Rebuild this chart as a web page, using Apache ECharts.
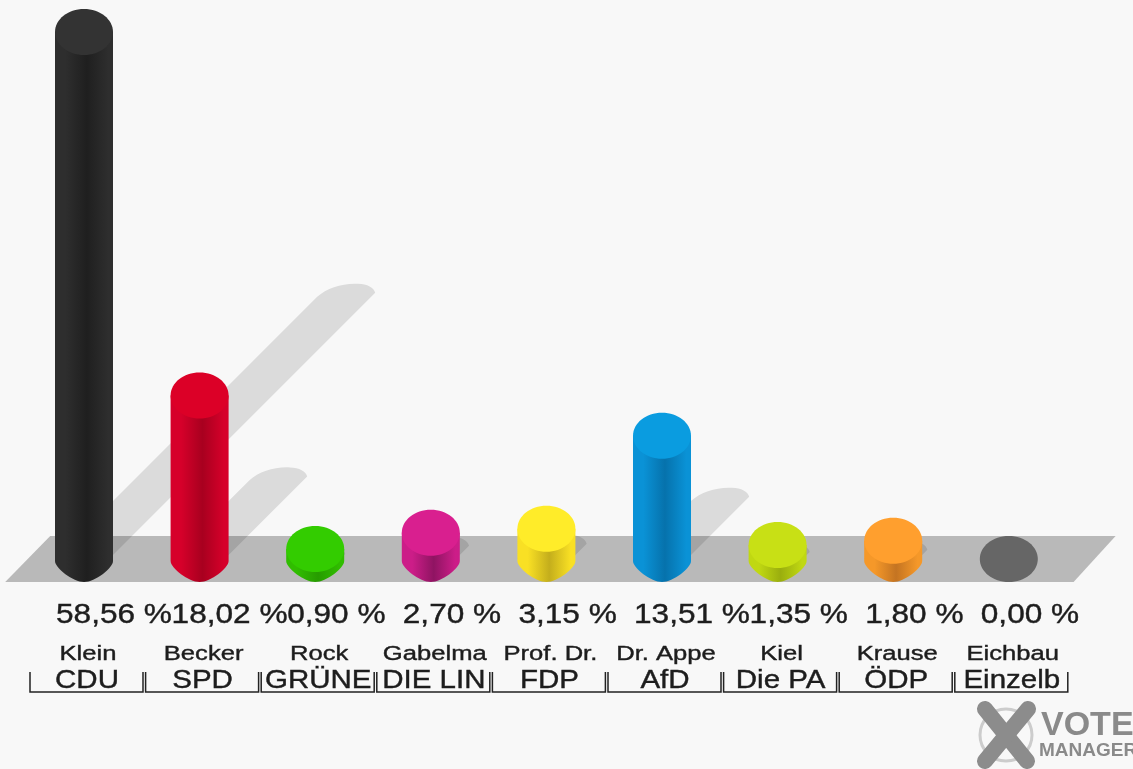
<!DOCTYPE html>
<html>
<head>
<meta charset="utf-8">
<style>html,body{margin:0;padding:0;background:#f8f8f8}#c{width:1133px;height:769px}</style>
<script src="https://cdn.jsdelivr.net/npm/echarts@6/dist/echarts.min.js"></script>
</head>
<body>
<div id="c"></div>
<script>
const names = ['Klein','Becker','Rock','Gabelma','Prof. Dr.','Dr. Appe','Kiel','Krause','Eichbau'];
const parties = ['CDU','SPD','GRÜNE','DIE LIN','FDP','AfD','Die PA','ÖDP','Einzelb'];
const values = [58.56,18.02,0.90,2.70,3.15,13.51,1.35,1.80,0.00];
const valueLabels = ['58,56 %','18,02 %','0,90 %','2,70 %','3,15 %','13,51 %','1,35 %','1,80 %','0,00 %'];
const topColors = ['#333333','#dc0027','#33cc00','#d91f8f','#ffec29','#0a9ce0','#c8e015','#ff9f2e','#666666'];
const sideColors = ['#2e2e2e','#d6002a','#30bd00','#cc1d88','#f9e024','#0a92d6','#c0d812','#f59829','#666666'];
const darkColors = ['#1f1f1f','#a8001f','#279c00','#8f1462','#c4ae1c','#0672ac','#9aae0e','#c47422','#666666'];

const RX = 29, RY = 23, LIFT = 2;
const SHADOW = 0.505;

const chart = echarts.init(document.getElementById('c'), null, {renderer:'canvas'});

function floorItem(params, api) {
  const cs = params.coordSys;
  const y0 = api.coord([0, 0])[1] + LIFT;
  const l = cs.x, r = cs.x + cs.width;
  return {type:'polygon', shape:{points:[
    [l - 21, y0 + RY], [l + 24, y0 - RY], [r + 49, y0 - RY], [r + 7, y0 + RY]
  ]}, style:{fill:'#b9b9b9'}};
}

function shadowItem(params, api) {
  const p0 = api.coord([api.value(0), 0]);
  const p1 = api.coord([api.value(0), api.value(1)]);
  const cx = p0[0], y0 = p0[1] + LIFT;
  const d = (p0[1] - p1[1]) * SHADOW + 1;
  if (api.value(1) <= 0) return null;
  const rx = cx + 25 + d, ry = y0 - d;
  const path = 'M' + (cx - 29) + ' ' + y0 +
    ' L' + (rx - 58) + ' ' + (ry + 4) +
    ' C' + (rx - 48) + ' ' + (ry - 5) + ' ' + (rx - 32) + ' ' + (ry - 10) + ' ' + (rx - 17) + ' ' + (ry - 9) +
    ' C' + (rx - 8) + ' ' + (ry - 9) + ' ' + (rx - 1) + ' ' + (ry - 5) + ' ' + rx + ' ' + ry +
    ' L' + (cx + 25) + ' ' + y0 + ' Z';
  return {type:'path', shape:{pathData:path}, style:{fill:'rgba(0,0,0,0.115)'}};
}

function barItem(params, api) {
  const i = params.dataIndex;
  const v = api.value(1);
  const p0 = api.coord([api.value(0), 0]);
  const p1 = api.coord([api.value(0), v]);
  const cx = p0[0], y0 = p0[1] + LIFT;
  const yt = v > 0 ? p1[1] : y0;
  if (v <= 0) {
    return {type:'ellipse', shape:{cx:cx, cy:y0, rx:RX, ry:RY}, style:{fill:topColors[i]}};
  }
  const body = 'M' + (cx - RX) + ' ' + yt + ' L' + (cx + RX) + ' ' + yt +
    ' L' + (cx + RX) + ' ' + (y0 + 2) +
    ' C' + (cx + RX) + ' ' + (y0 + 9) + ' ' + (cx + 11) + ' ' + (y0 + RY) + ' ' + cx + ' ' + (y0 + RY) +
    ' C' + (cx - 11) + ' ' + (y0 + RY) + ' ' + (cx - RX) + ' ' + (y0 + 9) + ' ' + (cx - RX) + ' ' + (y0 + 2) + ' Z';
  const grad = new echarts.graphic.LinearGradient(0, 0, 1, 0, [
    {offset:0, color:sideColors[i]},
    {offset:0.18, color:sideColors[i]},
    {offset:0.55, color:darkColors[i]},
    {offset:0.92, color:sideColors[i]},
    {offset:1, color:sideColors[i]}
  ]);
  return {type:'group', children:[
    {type:'path', shape:{pathData:body}, style:{fill:grad}},
    {type:'ellipse', shape:{cx:cx, cy:yt, rx:RX, ry:RY}, style:{fill:topColors[i]}}
  ]};
}

function labelItem(params, api) {
  const i = params.dataIndex;
  const p0 = api.coord([api.value(0), 0]);
  const cx = p0[0];
  const base = p0[1] + LIFT;
  const ink = '#1d1d1d';
  const left = cx - 54, right = cx + 59, bot = base + 133, top = base + 113;
  const txt = (text, size) => ({text:text, fontFamily:'Liberation Sans', fontSize:size, fill:ink, stroke:ink, lineWidth:0.4, verticalAlign:'middle'});
  return {type:'group', children:[
    {type:'text', x:cx - 28, y:base + 57, scaleX:1.17, style:Object.assign(txt(valueLabels[i], 27), {align:'left'})},
    {type:'text', x:cx + 4, y:base + 95, scaleX:1.28, style:Object.assign(txt(names[i], 20), {align:'center'})},
    {type:'text', x:cx + 3, y:base + 122, scaleX:1.18, style:Object.assign(txt(parties[i], 25), {align:'center'})},
    {type:'polyline', shape:{points:[[left, top],[left, bot],[right, bot],[right, top]]},
      style:{stroke:'#222222', lineWidth:1.5, fill:null}}
  ]};
}

const cats = names.map((n, i) => i);
const data = values.map((v, i) => [i, v]);

chart.setOption({
  animation:false,
  backgroundColor:'#f8f8f8',
  grid:{left:26.2, width:1040.4, top:19, height:538},
  xAxis:{type:'category', data:cats, show:false},
  yAxis:{type:'value', min:0, max:60, show:false},
  tooltip:{show:false},
  graphic:[
    {type:'circle', shape:{cx:1006, cy:735, r:26}, style:{fill:'none', stroke:'#cccccc', lineWidth:3}, z:5},
    {type:'line', shape:{x1:985, y1:709, x2:1027, y2:761}, style:{stroke:'#8c8c8c', lineWidth:16, lineCap:'round'}, z:5},
    {type:'line', shape:{x1:1028, y1:709, x2:985, y2:761}, style:{stroke:'#8c8c8c', lineWidth:16, lineCap:'round'}, z:5},
    {type:'text', x:1041, y:726, style:{text:'VOTE', fontFamily:'Liberation Sans', fontWeight:'bold', fontSize:34, fill:'#8a8a8a', align:'left', verticalAlign:'middle'}, z:5},
    {type:'text', x:1039, y:751, style:{text:'MANAGER', fontFamily:'Liberation Sans', fontWeight:'bold', fontSize:19, fill:'#8a8a8a', align:'left', verticalAlign:'middle'}, z:5}
  ],
  series:[
    {type:'custom', data:[[0,0]], renderItem:floorItem, silent:true, clip:false, encode:{x:0,y:1}},
    {type:'custom', data:data, renderItem:shadowItem, silent:true, clip:false, encode:{x:0,y:1}},
    {type:'custom', data:data, renderItem:barItem, silent:true, clip:false, encode:{x:0,y:1}},
    {type:'custom', data:data, renderItem:labelItem, silent:true, clip:false, encode:{x:0,y:1}}
  ]
});
</script>
</body>
</html>
